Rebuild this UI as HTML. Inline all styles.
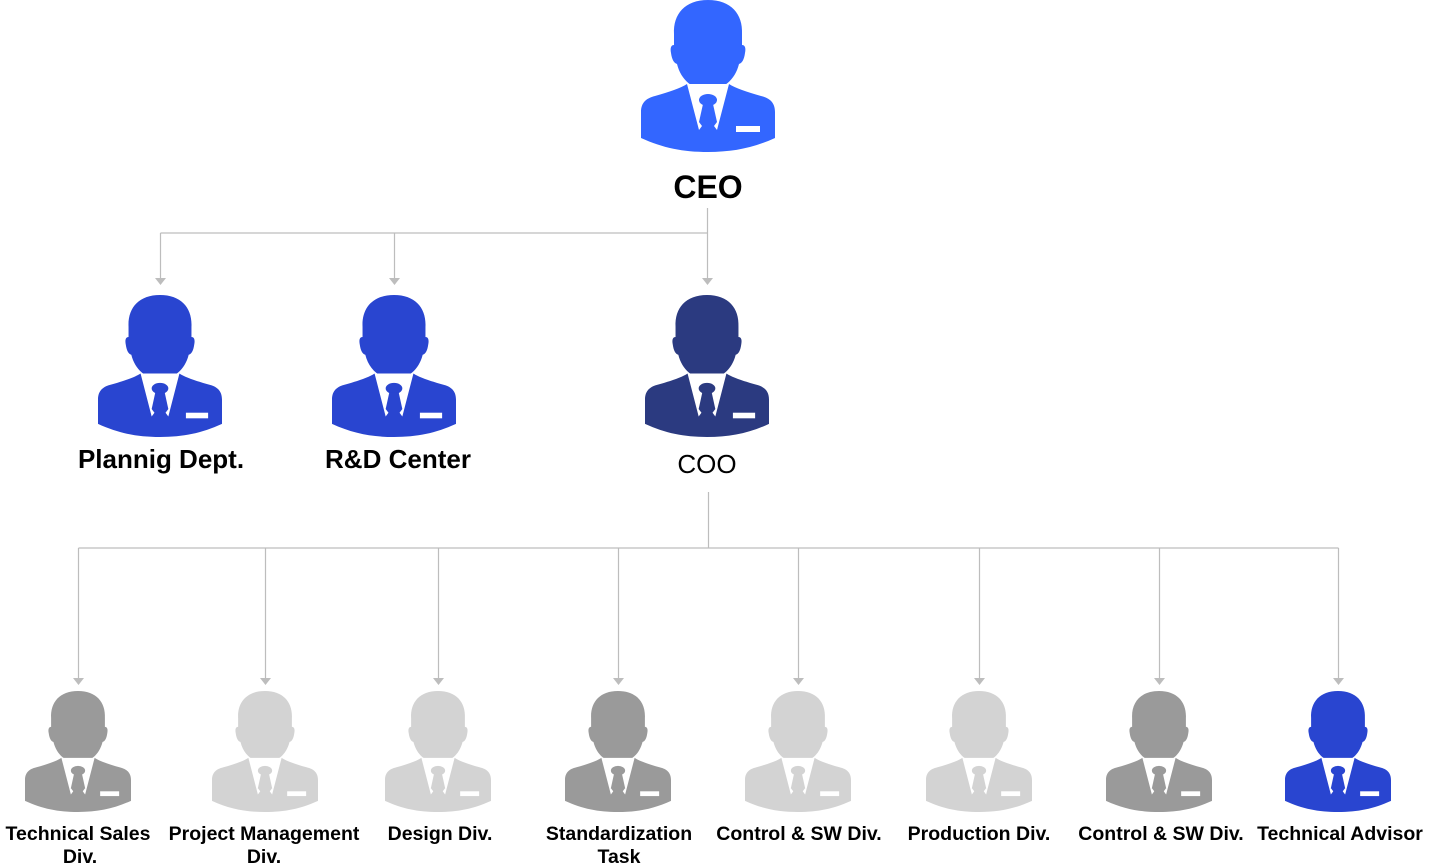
<!DOCTYPE html>
<html><head><meta charset="utf-8"><style>
html,body{margin:0;padding:0;background:#fff;}
svg{display:block}
text{font-family:"Liberation Sans",Arial,sans-serif;fill:#000;}
</style></head><body>
<svg width="1429" height="866" viewBox="0 0 1429 866" xmlns="http://www.w3.org/2000/svg">
<defs>
<symbol id="p" viewBox="0 0 134 152" preserveAspectRatio="none">
  <path d="M67,0 C90,0 102,14 101,34 L101,45 C104,45 105,48 104,53 C103,60 101,63 98,64 C94,80 82,90 67,90 C52,90 40,80 36,64 C33,63 31,60 30,53 C29,48 30,45 33,45 L33,34 C32,14 44,0 67,0 Z"/>
  <path d="M0,112 C0,102 6,98 14,96 C28,92 40,88 46,84 L67,96 L88,84 C94,88 106,92 120,96 C128,98 134,102 134,112 L134,138 C112,148 92,152 67,152 C42,152 22,148 0,138 Z"/>
  <polygon points="46,84 88,84 76,130 67,118 58,130" fill="#fff"/>
  <ellipse cx="67" cy="100" rx="9" ry="6"/>
  <polygon points="62,104 72,104 76,122 67,134 58,122"/>
  <rect x="95" y="126" width="24" height="6" fill="#fff"/>
</symbol>
</defs>
<g stroke="#bdbdbd" stroke-width="1.2" fill="none">
  <path d="M707.5,208 V278 M160.5,233 H707.5 M160.5,233 V278 M394.5,233 V278"/>
  <path d="M708.5,492 V548 M78.5,548 H1338.5"/>
  <path d="M78.5,548V678 M265.5,548V678 M438.5,548V678 M618.5,548V678 M798.5,548V678 M979.5,548V678 M1159.5,548V678 M1338.5,548V678"/>
</g>
<g fill="#bdbdbd">
  <polygon points="155,278 166,278 160.5,285"/>
  <polygon points="389,278 400,278 394.5,285"/>
  <polygon points="702,278 713,278 707.5,285"/>
  <polygon points="73,678 84,678 78.5,685"/>
  <polygon points="260,678 271,678 265.5,685"/>
  <polygon points="433,678 444,678 438.5,685"/>
  <polygon points="613,678 624,678 618.5,685"/>
  <polygon points="793,678 804,678 798.5,685"/>
  <polygon points="974,678 985,678 979.5,685"/>
  <polygon points="1154,678 1165,678 1159.5,685"/>
  <polygon points="1333,678 1344,678 1338.5,685"/>
</g>
<use href="#p" x="641" y="0" width="134" height="152" fill="#3366ff"/>
<use href="#p" x="98" y="295" width="124" height="142" fill="#2945d0"/>
<use href="#p" x="332" y="295" width="124" height="142" fill="#2945d0"/>
<use href="#p" x="645" y="295" width="124" height="142" fill="#2b3a80"/>
<use href="#p" x="25" y="691" width="106" height="121" fill="#9a9a9a"/>
<use href="#p" x="212" y="691" width="106" height="121" fill="#d3d3d3"/>
<use href="#p" x="385" y="691" width="106" height="121" fill="#d3d3d3"/>
<use href="#p" x="565" y="691" width="106" height="121" fill="#9a9a9a"/>
<use href="#p" x="745" y="691" width="106" height="121" fill="#d3d3d3"/>
<use href="#p" x="926" y="691" width="106" height="121" fill="#d3d3d3"/>
<use href="#p" x="1106" y="691" width="106" height="121" fill="#9a9a9a"/>
<use href="#p" x="1285" y="691" width="106" height="121" fill="#2945d0"/>
<g text-anchor="middle">
  <text x="708" y="198" font-size="32" font-weight="bold">CEO</text>
  <text x="161" y="468" font-size="26" font-weight="bold">Plannig Dept.</text>
  <text x="398" y="468" font-size="26" font-weight="bold">R&amp;D Center</text>
  <text x="707" y="473" font-size="26">COO</text>
  <g font-size="19.5" font-weight="bold">
    <text x="78" y="840">Technical Sales</text><text x="80" y="863">Div.</text>
    <text x="264" y="840">Project Management</text><text x="264" y="863">Div.</text>
    <text x="440" y="840">Design Div.</text>
    <text x="619" y="840">Standardization</text><text x="619" y="863">Task</text>
    <text x="799" y="840">Control &amp; SW Div.</text>
    <text x="979" y="840">Production Div.</text>
    <text x="1161" y="840">Control &amp; SW Div.</text>
    <text x="1340" y="840">Technical Advisor</text>
  </g>
</g>
</svg>
</body></html>
